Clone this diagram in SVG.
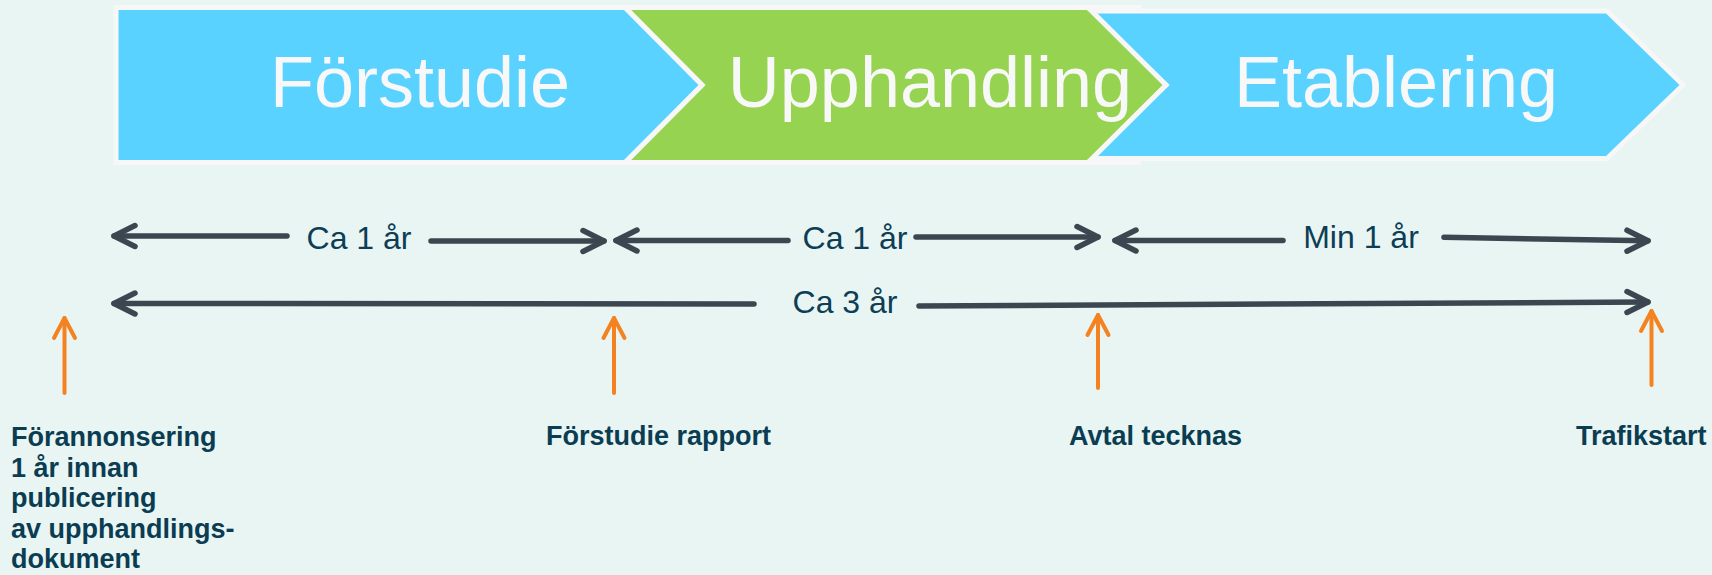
<svg xmlns="http://www.w3.org/2000/svg" width="1712" height="575" viewBox="0 0 1712 575">
<defs>
<style>
.phase{stroke:#F7F7F7;stroke-width:5;stroke-linejoin:miter}
.blue{fill:#5AD2FF}
.green{fill:#95D351}
.ptext{font-family:"Liberation Sans",Arial,sans-serif;font-size:72px;fill:#F8F8F8;text-anchor:middle}
.dim{stroke:#3B4650;stroke-width:5.5;fill:none;stroke-linecap:round;stroke-linejoin:round}
.dtext{font-family:"Liberation Sans",Arial,sans-serif;font-size:32px;fill:#0D3E55;text-anchor:middle}
.mark{stroke:#F58220;stroke-width:4;fill:none;stroke-linecap:round;stroke-linejoin:round}
.ltext{font-family:"Liberation Sans",Arial,sans-serif;font-size:27px;font-weight:bold;fill:#0B3D52}
</style>
</defs>
<rect width="1712" height="575" fill="#E8F5F3"/>
<g id="etablering">
<polygon class="phase blue" points="1088,11 1607,11 1683,85 1607,158.5 1088,158.5 1166,85"/>
<text class="ptext" x="1396" y="107">Etablering</text>
</g>
<g id="upphandling">
<rect x="1086" y="5" width="55" height="5" fill="#F7F7F7"/>
<rect x="1086" y="160" width="55" height="5" fill="#F7F7F7"/>
<polygon class="phase green" points="625,7.5 1088,7.5 1166,85 1088,162.5 625,162.5 702,85"/>
<text class="ptext" x="930" y="107">Upphandling</text>
</g>
<g id="forstudie">
<polygon class="phase blue" points="116,7.5 625,7.5 702,85 625,162.5 116,162.5"/>
<text class="ptext" x="420" y="107">Förstudie</text>
</g>
<g id="connectors">
<polyline class="dim" points="287,236 114,236"/>
<polyline class="dim" points="135,225.5 114,236 135,246.5"/>
<polyline class="dim" points="431,241 604,241"/>
<polyline class="dim" points="583,230.5 604,241 583,251.5"/>
<polyline class="dim" points="788,240.5 616,240.5"/>
<polyline class="dim" points="637,230 616,240.5 637,251"/>
<polyline class="dim" points="916,237 1098,237"/>
<polyline class="dim" points="1077,226.5 1098,237 1077,247.5"/>
<polyline class="dim" points="1283,240.5 1115,240.5"/>
<polyline class="dim" points="1136,230 1115,240.5 1136,251"/>
<polyline class="dim" points="1444,237.3 1648,240.7"/>
<polyline class="dim" points="1627,230.2 1648,240.7 1627,251.2"/>
<polyline class="dim" points="754,304 114,303.5"/>
<polyline class="dim" points="135,293 114,303.5 135,314"/>
<polyline class="dim" points="919,306 1648,302"/>
<polyline class="dim" points="1627,291.5 1648,302 1627,312.5"/>
<line class="mark" x1="64.5" y1="393" x2="64.5" y2="318"/>
<polyline class="mark" points="54,338 64.5,318 75,338"/>
<line class="mark" x1="614" y1="393" x2="614" y2="318"/>
<polyline class="mark" points="603.5,338 614,318 624.5,338"/>
<line class="mark" x1="1098" y1="388" x2="1098" y2="315"/>
<polyline class="mark" points="1087.5,335 1098,315 1108.5,335"/>
<line class="mark" x1="1651.5" y1="385" x2="1651.5" y2="311"/>
<polyline class="mark" points="1641,331 1651.5,311 1662,331"/>
</g>
<g id="duration-labels">
<text class="dtext" x="359" y="249">Ca 1 år</text>
<text class="dtext" x="855" y="249">Ca 1 år</text>
<text class="dtext" x="1361" y="248">Min 1 år</text>
<text class="dtext" x="845" y="312.5">Ca 3 år</text>
</g>
<g id="forannonsering">
<text class="ltext" x="11" y="446">Förannonsering</text>
<text class="ltext" x="11" y="476.5">1 år innan</text>
<text class="ltext" x="11" y="507">publicering</text>
<text class="ltext" x="11" y="537.5">av upphandlings-</text>
<text class="ltext" x="11" y="568">dokument</text>
</g>
<g id="forstudie-rapport"><text class="ltext" x="546" y="445">Förstudie rapport</text></g>
<g id="avtal-tecknas"><text class="ltext" x="1069" y="445">Avtal tecknas</text></g>
<g id="trafikstart"><text class="ltext" x="1576" y="445">Trafikstart</text></g>
</svg>
